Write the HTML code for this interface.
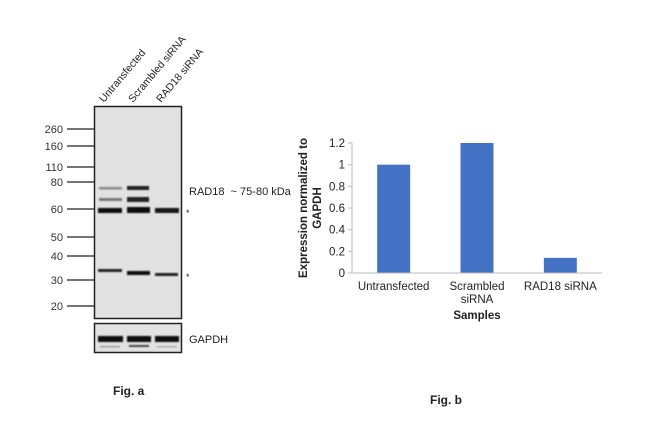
<!DOCTYPE html>
<html><head><meta charset="utf-8"><style>
body{margin:0;background:#fff;font-family:"Liberation Sans",sans-serif}
svg{display:block}
</style></head><body>
<svg width="650" height="440" viewBox="0 0 650 440" font-family="Liberation Sans, sans-serif">
<defs>
<filter id="blur" x="-20%" y="-50%" width="140%" height="200%"><feGaussianBlur stdDeviation="0.9"/></filter>
</defs>
<g>
  <rect x="94.5" y="106.5" width="87" height="212" fill="#e2e2e2" stroke="#222" stroke-width="1.5"/>
  <rect x="94.5" y="323.5" width="87" height="29" fill="#e2e2e2" stroke="#222" stroke-width="1.5"/>
  <g id="ladder" font-size="11" fill="#333" text-anchor="end"></g>
  <g filter="url(#blur)">
    <rect x="99" y="187" width="23" height="2.5" fill="#888"/>
    <rect x="127" y="186" width="22" height="4" fill="#222"/>
    <rect x="99" y="198" width="23" height="3" fill="#777"/>
    <rect x="127" y="197" width="22" height="5" fill="#222"/>
    <rect x="98" y="208" width="24" height="5" fill="#111"/>
    <rect x="127" y="207" width="23" height="6" fill="#111"/>
    <rect x="155" y="208" width="24" height="5" fill="#151515"/>
    <rect x="98" y="269" width="24" height="3" fill="#222"/>
    <rect x="127" y="271" width="23" height="4" fill="#111"/>
    <rect x="155" y="273" width="23" height="3" fill="#222"/>
    <rect x="98" y="336" width="25" height="6" fill="#111"/>
    <rect x="127" y="336" width="24" height="6" fill="#111"/>
    <rect x="155" y="336" width="24" height="6" fill="#111"/>
    <rect x="100" y="346" width="20" height="1.5" fill="#999"/>
    <rect x="129" y="345" width="20" height="2" fill="#444"/>
    <rect x="157" y="346" width="20" height="1.5" fill="#aaa"/>
  </g>
  <g font-size="10.5" fill="#222">
    <text transform="translate(104,103) rotate(-50)">Untransfected</text>
    <text transform="translate(133,103) rotate(-50)">Scrambled siRNA</text>
    <text transform="translate(161,103) rotate(-50)">RAD18 siRNA</text>
  </g>
  <text x="189" y="195" font-size="11" fill="#222">RAD18 &#160;~ 75-80 kDa</text>
  <text x="186" y="216" font-size="9" fill="#222">*</text>
  <text x="186" y="280" font-size="9" fill="#222">*</text>
  <text x="189" y="343" font-size="11" fill="#222">GAPDH</text>
  <text x="113" y="395" font-size="12" font-weight="bold" fill="#222">Fig. a</text>
</g>
<g id="chart">
  <text transform="translate(313,208) rotate(-90)" text-anchor="middle" font-size="11.5" font-weight="bold" fill="#222"><tspan x="0" dy="-6">Expression  normalized to</tspan><tspan x="0" dy="14">GAPDH</tspan></text>
  <text x="477" y="319" text-anchor="middle" font-size="11.5" font-weight="bold" fill="#222">Samples</text>
  <text x="430" y="404" font-size="12" font-weight="bold" fill="#222">Fig. b</text>
</g>
</svg>
<script>
const ladderLabels=["260","160","110","80","60","50","40","30","20"];
const ladderY=[129,146,167,182,209,237,256,280,306];
const categories=["Untransfected","Scrambled siRNA","RAD18 siRNA"];
const values=[1.0,1.2,0.14];
const yTicks=[0,0.2,0.4,0.6,0.8,1,1.2];
const NS="http://www.w3.org/2000/svg";
const lad=document.getElementById('ladder');
ladderLabels.forEach((l,i)=>{
  const t=document.createElementNS(NS,'text');
  t.setAttribute('x',63);t.setAttribute('y',ladderY[i]+4);t.textContent=l;
  
  
  lad.appendChild(t);
  const ln=document.createElementNS(NS,'line');
  ln.setAttribute('x1',67);ln.setAttribute('x2',94);ln.setAttribute('y1',ladderY[i]);ln.setAttribute('y2',ladderY[i]);
  ln.setAttribute('stroke','#222');ln.setAttribute('stroke-width','1.3');
  
  
  lad.appendChild(ln);
});
const g=document.getElementById('chart');
const x0=352,x1=602,y0=273,yTop=143,ymax=1.2;
const ys=v=>y0-(v/ymax)*(y0-yTop);
const bw=(x1-x0)/categories.length;
const xs=i=>x0+bw*(i+0.5);
function el(tag,attrs){const e=document.createElementNS(NS,tag);for(const k in attrs)e.setAttribute(k,attrs[k]);g.appendChild(e);return e;}
yTicks.forEach(v=>{
  const ln=el('line',{x1:x0-4,x2:x0,y1:ys(v),y2:ys(v),stroke:'#bbb'});
  
  
  const t=el('text',{x:x0-7,y:ys(v)+4,'text-anchor':'end','font-size':'11.5',fill:'#222'});
  t.textContent=String(v);
  
  
});
const ya=el('line',{x1:x0,x2:x0,y1:yTop,y2:y0,stroke:'#bbb'});


categories.forEach((c,i)=>{
  const r=el('rect',{x:xs(i)-16.5,y:ys(values[i]),width:33,height:y0-ys(values[i]),fill:'#4472c4'});
  
  
  const t=el('text',{x:xs(i),y:y0+17,'text-anchor':'middle','font-size':'11.5',fill:'#222'});
  
  
  if(c==="Scrambled siRNA"){t.innerHTML='<tspan x="'+xs(i)+'">Scrambled</tspan><tspan x="'+xs(i)+'" dy="13">siRNA</tspan>';}
  else t.textContent=c;
});
const xa=el('line',{x1:x0,x2:x1,y1:y0,y2:y0,stroke:'#bbb'});


</script>
</body></html>
